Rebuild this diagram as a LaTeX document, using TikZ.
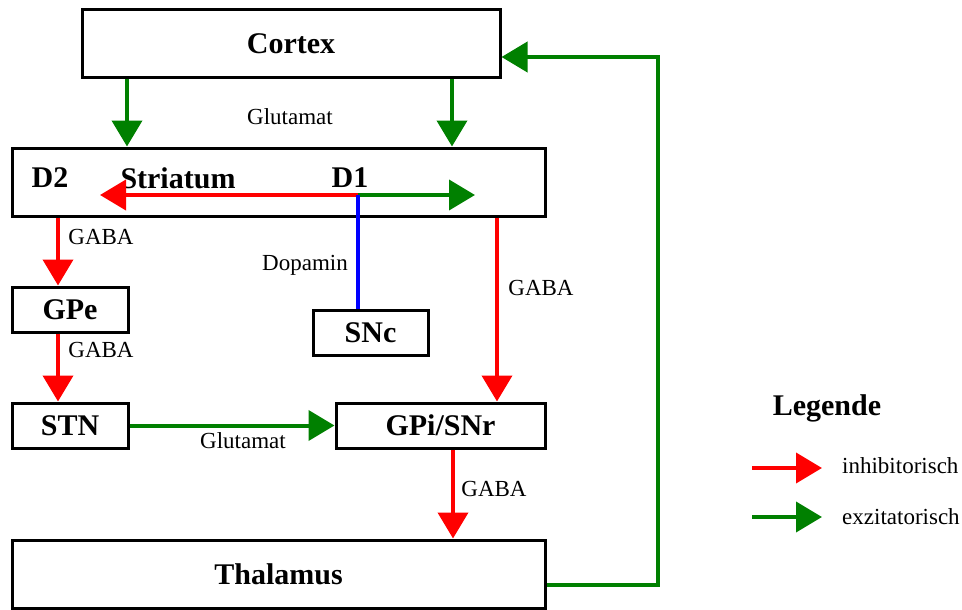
\documentclass[tikz,border=0pt]{standalone}
\usepackage{fontspec}
\setmainfont{Liberation Serif}
\usetikzlibrary{arrows.meta}
\definecolor{gr}{RGB}{0,128,0}
\definecolor{rd}{RGB}{255,0,0}
\definecolor{bl}{RGB}{0,0,255}
\begin{document}
\begin{tikzpicture}[x=1pt,y=-1pt,
  box/.style={draw=black, line width=3pt, inner sep=0pt, font=\fontsize{30}{32}\selectfont\bfseries},
  blbl/.style={inner sep=0pt, font=\fontsize{30}{32}\selectfont\bfseries},
  lbl/.style={inner sep=0pt, font=\fontsize{23}{26}\selectfont},
  inh/.style={draw=rd, line width=4pt, -{Triangle[width=30pt,length=26pt]}},
  exc/.style={draw=gr, line width=4pt, line join=miter, -{Triangle[width=30pt,length=26pt]}},
  dop/.style={draw=bl, line width=4pt}]
\useasboundingbox (0,0) rectangle (962,610);
\fill[white] (0,0) rectangle (962,610);
% boxes
\node[box, minimum width=418pt, minimum height=68pt] (cortex) at (291,44) {Cortex};
\node[box, minimum width=533pt, minimum height=68pt] (striatum) at (278.5,182) {};
\node[box, minimum width=116pt, minimum height=45pt] (gpe) at (70,309.5) {GPe};
\node[box, minimum width=115pt, minimum height=45pt] (snc) at (370.5,332.5) {SNc};
\node[box, minimum width=116pt, minimum height=45pt] (stn) at (70,425.5) {STN};
\node[box, minimum width=209pt, minimum height=45pt] (gpi) at (440.5,425.5) {GPi/SNr};
\node[box, minimum width=533pt, minimum height=68pt] (thalamus) at (278.5,574) {Thalamus};
% striatum labels
\node[blbl] (d2) at (50,178) {D2};
\node[blbl] (strlbl) at (178,178) {Striatum};
\node[blbl] (d1) at (350,178) {D1};
% helper coordinates
\coordinate (c1) at (127,0);
\coordinate (c2) at (452,0);
\coordinate (hub) at (358,195);
\coordinate (lt) at (100,195);
\coordinate (rt) at (475,195);
\coordinate (cl) at (58,0);
\coordinate (cr) at (497,0);
\coordinate (cg) at (453,0);
\coordinate (fb) at (658,0);
% cortex -> striatum
\draw[exc] (cortex.south -| c1) -- (striatum.north -| c1);
\draw[exc] (cortex.south -| c2) -- (striatum.north -| c2);
% inside striatum
\draw[inh] (hub) -- (lt);
\draw[exc] (hub) -- (rt);
\draw[dop] (hub) -- (snc.north -| hub);
% indirect pathway
\draw[inh] (striatum.south -| cl) -- (gpe.north -| cl);
\draw[inh] (gpe.south -| cl) -- (stn.north -| cl);
\draw[exc] (stn.east) -- (gpi.west);
% direct pathway
\draw[inh] (striatum.south -| cr) -- (gpi.north -| cr);
\draw[inh] (gpi.south -| cg) -- (thalamus.north -| cg);
% feedback
\draw[exc] ([yshift=-11pt]thalamus.east) -- ([yshift=-11pt]thalamus.east -| fb) -- ([yshift=-13pt]cortex.east -| fb) -- ([yshift=-13pt]cortex.east);
% labels
\node[lbl] (glu1) at (290,117) {Glutamat};
\node[lbl] (glu2) at (243,441) {Glutamat};
\node[lbl] (gaba1) at (101,237) {GABA};
\node[lbl] (gaba2) at (101,350) {GABA};
\node[lbl] (gaba3) at (541,288) {GABA};
\node[lbl] (gaba4) at (494,489) {GABA};
\node[lbl] (dopa) at (305,265) {Dopamin};
% legend
\node[blbl] (leg) at (827,408) {Legende};
\coordinate (l1a) at (752,468);
\coordinate (l1b) at (822,468);
\coordinate (l2a) at (752,517);
\coordinate (l2b) at (822,517);
\draw[inh] (l1a) -- (l1b);
\draw[exc] (l2a) -- (l2b);
\node[lbl, anchor=west] (inhl) at (842,466) {inhibitorisch};
\node[lbl, anchor=west] (excl) at (842,517) {exzitatorisch};
\end{tikzpicture}
\end{document}
